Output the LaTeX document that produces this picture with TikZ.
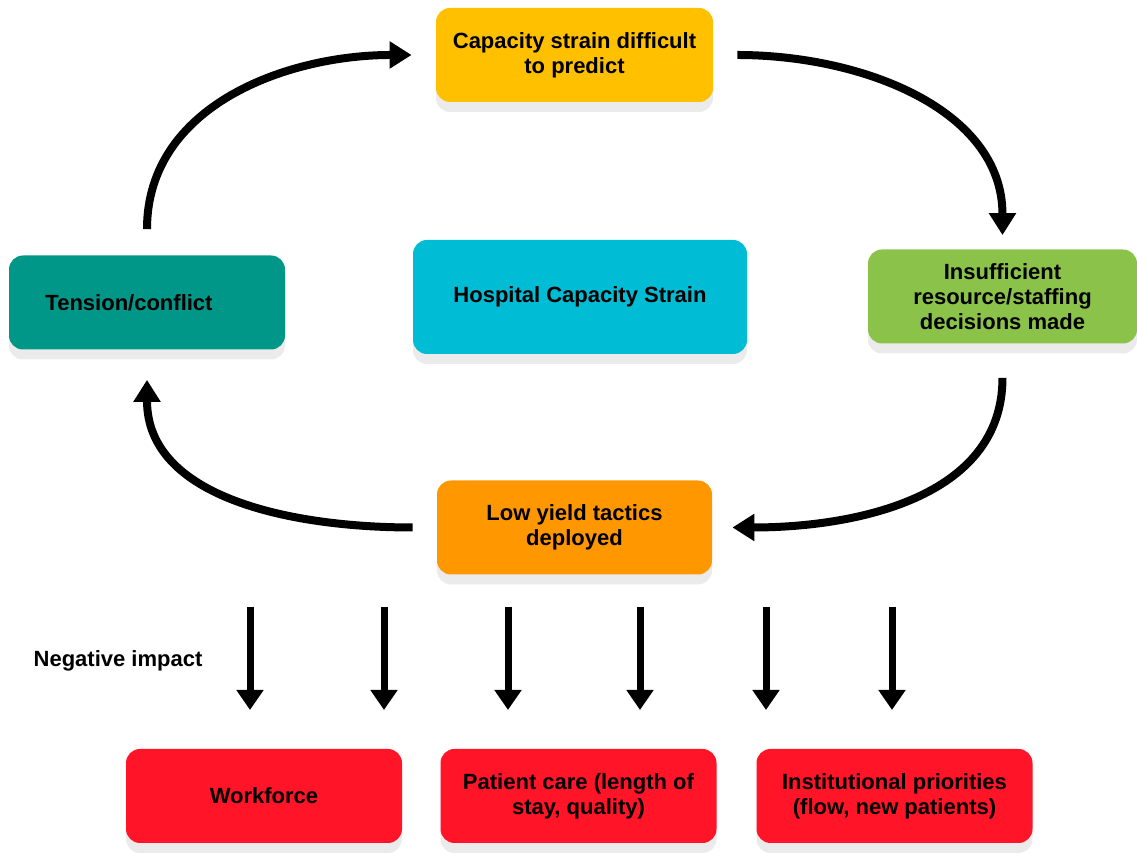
\documentclass[tikz,border=0pt]{standalone}
\usepackage{fontspec}
\setmainfont{Liberation Sans}
\usetikzlibrary{positioning,arrows.meta,shadows}

\definecolor{predictcol}{HTML}{FFC000}
\definecolor{tensioncol}{HTML}{009688}
\definecolor{hospitalcol}{HTML}{00BCD4}
\definecolor{decidecol}{HTML}{8BC34A}
\definecolor{tacticscol}{HTML}{FF9800}
\definecolor{impactcol}{HTML}{FF1428}

\begin{document}
\begin{tikzpicture}[
    x=0.5pt, y=0.5pt,
    box/.style = {rounded corners=7pt, minimum width=138pt, minimum height=47pt, align=center,
                  font=\fontsize{11pt}{12.6pt}\selectfont\bfseries,
                  drop shadow={shadow xshift=0pt, shadow yshift=-5pt, fill=black!8, opacity=1}},
    cyclearrow/.style = {line width=4pt, -{Triangle[width=13pt,length=11pt]}},
    impactarrow/.style = {line width=3.5pt, -{Triangle[width=13pt,length=10pt]}}
]
\useasboundingbox (0,0) rectangle (1137,854);

\node (predict) [box, fill=predictcol, minimum width=138.5pt] at (574.5,799) {Capacity strain difficult\\to predict};
\node (tension) [box, fill=tensioncol] at (147,551.5) {Tension/conflict\hspace*{18pt}};
\node (hospital) [box, fill=hospitalcol, minimum width=167pt, minimum height=57pt] at (580,557) {Hospital Capacity Strain};
\node (decide) [box, fill=decidecol, minimum width=134.5pt] at (1002.5,557.5) {Insufficient\\resource/staffing\\decisions made};
\node (tactics) [box, fill=tacticscol, minimum width=137.5pt] at (574.5,326.5) {Low yield tactics\\deployed};

\node (workforce) [box, fill=impactcol] at (264,58) {Workforce};
\node (care) [box, fill=impactcol] at (578.5,58) {Patient care (length of\\stay, quality)};
\node (priorities) [box, fill=impactcol] at (894.5,58) {Institutional priorities\\(flow, new patients)};

\node (negative) [font=\fontsize{11pt}{12.6pt}\selectfont\bfseries] at (118,193) {Negative impact};

% the cycle
\draw[cyclearrow] ([yshift=13pt]tension.north) to[out=90,in=180] ([xshift=-12pt]predict.west);
\draw[cyclearrow] ([xshift=12pt]predict.east) to[out=0,in=90] ([yshift=7pt]decide.north);
\draw[cyclearrow] ([yshift=-17pt]decide.south) to[out=-90,in=0] ([xshift=10pt]tactics.east);
\draw[cyclearrow] ([xshift=-12pt]tactics.west) to[out=180,in=-90] ([yshift=-15pt]tension.south);

% impact arrows
\foreach \x [count=\i] in {250,384,508,640,766,892} {
  \coordinate (from\i) at (\x,247);
  \coordinate (to\i) at (\x,144);
  \draw[impactarrow] (from\i) -- (to\i);
}
\end{tikzpicture}
\end{document}
